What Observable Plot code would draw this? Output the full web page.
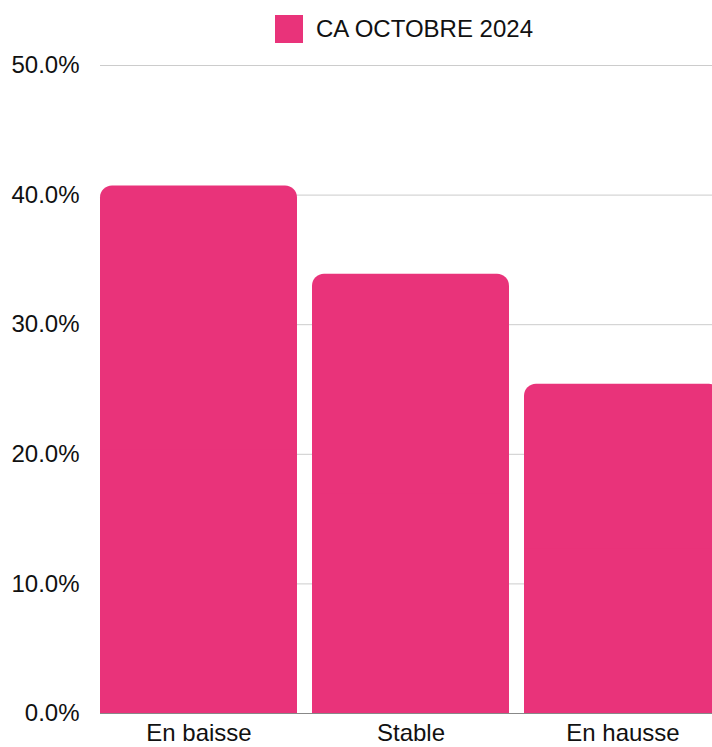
<!DOCTYPE html>
<html>
<head>
<meta charset="utf-8">
<script src="https://cdn.jsdelivr.net/npm/d3@7"></script>
<script src="https://cdn.jsdelivr.net/npm/@observablehq/plot@0.6"></script>
<style>
  html, body { margin: 0; padding: 0; background: #fff; overflow: hidden; width: 712px; height: 747px; }
  body { font-family: "Liberation Sans", Arial, sans-serif; color: #111; }
  #legend { height: 48px; width: 612px; margin-left: 98px; display: flex; justify-content: center; align-items: flex-start; }
  #legend .item { display: flex; align-items: center; margin-top: 15px; font-size: 24px; line-height: 28px; }
  #legend .sw { width: 28px; height: 28px; margin-right: 13px; }
  #chart { width: 722px; }
  #chart svg { display: block; overflow: visible; max-width: none !important; }
</style>
</head>
<body>
<div id="legend"></div>
<div id="chart"></div>
<script>
const categories = ["En baisse", "Stable", "En hausse"];
const values = [40.7, 33.9, 25.4];
const seriesName = "CA OCTOBRE 2024";
const yTicks = [0, 10, 20, 30, 40, 50];
const barColor = "#e9337a";

const data = categories.map((c, i) => ({category: c, value: values[i]}));

const legend = document.getElementById("legend");
legend.innerHTML = `<div class="item"><div class="sw" style="background:${barColor}"></div><span>${seriesName}</span></div>`;

const chart = Plot.plot({
  width: 722,
  height: 699,
  marginTop: 17,
  marginBottom: 34,
  marginLeft: 100,
  marginRight: 0,
  style: {fontFamily: "Liberation Sans, Arial, sans-serif", fontSize: "24px", color: "#111", background: "transparent", overflow: "visible", maxWidth: "none"},
  x: {domain: categories, paddingInner: 0.07, paddingOuter: 0, label: null, tickSize: 0, tickPadding: 10},
  y: {domain: [0, 50], ticks: yTicks, label: null, tickSize: 0, tickPadding: 21, tickFormat: d => d.toFixed(1) + "%"},
  marks: [
    Plot.gridY(yTicks, {stroke: "#cccccc", strokeOpacity: 1, strokeWidth: 1}),
    Plot.barY(data, {x: "category", y: "value", fill: barColor, rx: 12}),
    Plot.barY(data, {x: "category", y1: 0, y2: d => d.value / 2, fill: barColor}),
    Plot.ruleY([0], {stroke: "#888888", strokeWidth: 1})
  ]
});
document.getElementById("chart").appendChild(chart);
</script>
</body>
</html>
